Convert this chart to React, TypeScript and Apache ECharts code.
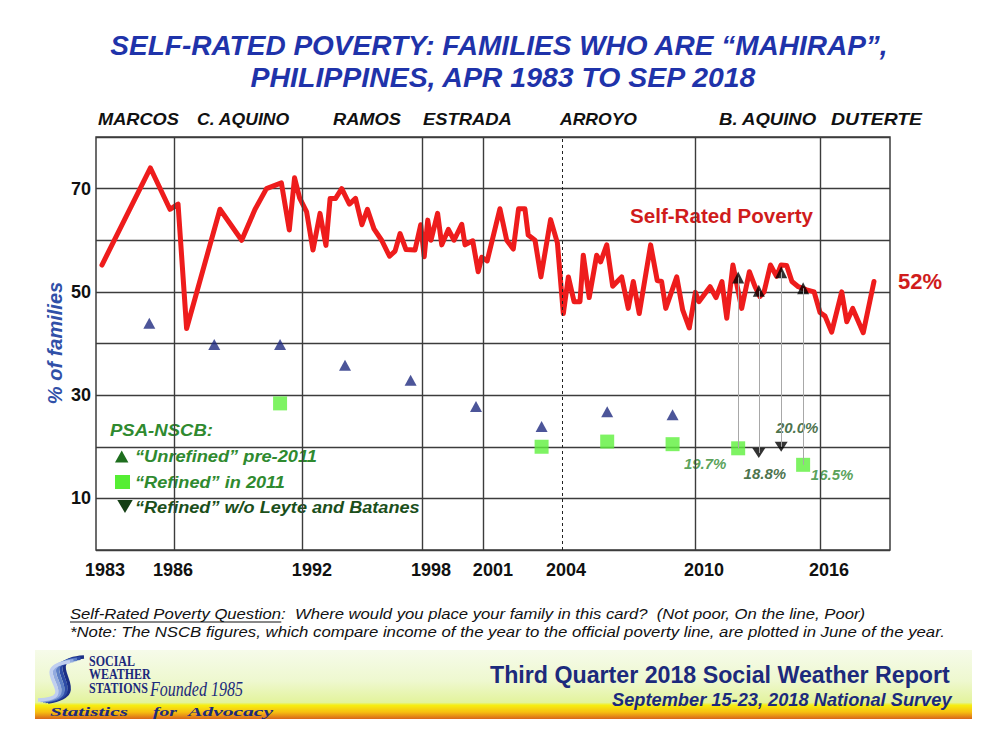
import React, { useEffect, useRef } from 'react';
import * as echarts from 'echarts';

// ---------- DATA ----------
// Self-Rated Poverty survey points (x = position on the time axis, in years)
const srpDates = [
  1982.86, 1985.07, 1985.96, 1986.33, 1986.72, 1988.24, 1989.23, 1989.84, 1990.36, 1991.04,
  1991.4, 1991.64, 1991.87, 1992.19, 1992.48, 1992.8, 1993.07, 1993.26, 1993.51, 1993.79,
  1994.14, 1994.42, 1994.71, 1994.96, 1995.26, 1995.61, 1995.97, 1996.22, 1996.45, 1996.72,
  1997.13, 1997.39, 1997.55, 1997.71, 1997.86, 1998.16, 1998.35, 1998.65, 1998.91, 1999.26,
  1999.41, 1999.76, 2000.01, 2000.17, 2000.42, 2001.0, 2001.31, 2001.61, 2001.85, 2002.14,
  2002.29, 2002.6, 2002.87, 2003.31, 2003.62, 2003.89, 2004.12, 2004.38, 2004.65, 2004.8,
  2005.07, 2005.41, 2005.59, 2005.87, 2006.14, 2006.55, 2006.85, 2007.08, 2007.35, 2007.87,
  2008.17, 2008.37, 2008.56, 2009.06, 2009.33, 2009.63, 2009.91, 2010.07, 2010.35, 2010.58,
  2010.85, 2011.12, 2011.34, 2011.62, 2012.02, 2012.37, 2012.63, 2012.85, 2013.04, 2013.33,
  2013.61, 2013.81, 2014.07, 2014.31, 2014.6, 2014.98, 2015.32, 2015.59, 2015.82, 2016.12,
  2016.58, 2016.81, 2017.08, 2017.56, 2018.05,
];
const srpValues = [
  55.2, 74.0, 66.0, 67.0, 42.9, 66.0, 60.0, 66.0, 70.0, 71.1,
  62.0, 72.1, 68.2, 65.5, 58.1, 65.2, 59.0, 68.1, 68.1, 70.0,
  67.0, 68.1, 63.0, 66.0, 62.2, 60.0, 56.9, 57.9, 61.3, 58.2,
  58.1, 63.0, 56.8, 63.9, 60.0, 65.2, 59.1, 62.1, 60.0, 63.1,
  59.1, 59.9, 53.9, 56.7, 56.0, 66.1, 60.0, 58.3, 66.1, 66.1,
  61.0, 60.0, 52.9, 64.0, 59.5, 45.8, 52.9, 48.1, 48.1, 57.1,
  48.9, 57.1, 55.8, 59.1, 51.1, 52.9, 46.8, 52.0, 45.8, 59.1,
  52.2, 52.0, 46.8, 52.9, 46.5, 43.0, 49.9, 48.1, 49.7, 51.0,
  48.9, 52.0, 44.9, 55.2, 46.8, 53.9, 51.0, 49.1, 50.0, 55.2,
  53.0, 55.2, 55.1, 52.0, 51.0, 50.4, 50.0, 46.0, 45.3, 42.2,
  50.0, 44.2, 46.8, 42.1, 52.0,
];

// PSA-NSCB "Unrefined" pre-2011
const unrefinedDates = [1985.02, 1987.98, 1990.98, 1993.94, 1996.93, 1999.91, 2002.9, 2005.89, 2008.87];
const unrefinedValues = [43.9, 39.8, 39.8, 35.8, 32.9, 27.8, 23.9, 26.8, 26.2];

// PSA-NSCB "Refined" in 2011
const refinedDates = [1990.98, 2002.9, 2005.89, 2008.87, 2011.86, 2014.82];
const refinedValues = [28.4, 20.0, 21.0, 20.5, 19.7, 16.5];

// PSA-NSCB "Refined" without Leyte and Batanes
const woLeyteDates = [2012.8, 2013.82];
const woLeyteValues = [18.8, 20.0];

// SRP at the NSCB comparison dates (black triangles on the red line)
const srpMarkDates = [2011.86, 2012.8, 2013.82, 2014.82];
const srpMarkValues = [52.8, 50.2, 53.8, 50.7];
const connectorEndValues = [19.7, 18.8, 20.0, 16.5];

// Presidential term boundaries and Arroyo's second term
const termBoundaries = [1986.16, 1992.01, 1997.46, 2000.24, 2009.92, 2015.6];
const secondTermStart = 2003.84;
const presidents = ['MARCOS', 'C. AQUINO', 'RAMOS', 'ESTRADA', 'ARROYO', 'B. AQUINO', 'DUTERTE'];

// x tick labels
const yearLabels = [1983, 1986, 1992, 1998, 2001, 2004, 2010, 2016];
const yearLabelPos = [1983.0, 1986.1, 1992.43, 1997.86, 2000.68, 2004.01, 2010.3, 2016.0];
const yTickLabels = [10, 30, 50, 70];

// ---------- HELPERS ----------
let measureCtx: CanvasRenderingContext2D | null = null;
function measureW(text: string, font: string): number {
  if (!measureCtx) measureCtx = document.createElement('canvas').getContext('2d');
  if (!measureCtx) return 0;
  measureCtx.font = font;
  return measureCtx.measureText(text).width;
}
function fitScale(text: string, font: string, target: number, lo = 0.8, hi = 1.2): number {
  const w = measureW(text, font);
  if (!w) return 1;
  return Math.max(lo, Math.min(hi, target / w));
}

const SANS = '"Liberation Sans", Arial, sans-serif';
const FAM_S = 'Liberation Sans';
const FAM_SERIF = 'Liberation Serif';

function fitText(
  text: string, x: number, y: number, size: number, weight: string, style: string,
  family: string, target: number, color: string, align: string = 'left', hi = 1.2
) {
  const font = `${style} ${weight} ${size}px "${family}"`;
  const sx = fitScale(text, font, target, 0.8, hi);
  return {
    type: 'text', x, y, scaleX: sx, silent: true,
    style: {
      text, fill: color, fontSize: size, fontWeight: weight, fontStyle: style,
      fontFamily: family, align, verticalAlign: 'middle',
    },
  };
}

export default function App() {
  const ref = useRef<HTMLDivElement>(null);

  useEffect(() => {
    if (!ref.current) return;
    const chart = echarts.init(ref.current, null, { renderer: 'svg' });

    const titleColor = '#1f33aa';
    const navy = '#1c2a7c';
    const green = '#2f8a2f';
    const darkGreen = '#1b4f1b';
    const red = '#ee1c1c';
    const redText = '#d01c1c';

    const srpData = srpDates.map((d, i) => [d, srpValues[i]]);
    const unrefinedData = unrefinedDates.map((d, i) => [d, unrefinedValues[i]]);

    const refinedLabelOffsets: Record<number, [number, number]> = { 4: [-33, 15], 5: [29, 10] };
    const refinedData = refinedDates.map((d, i) => {
      const off = refinedLabelOffsets[i];
      return off
        ? { value: [d, refinedValues[i]], label: { show: true, position: 'inside', offset: off, color: green } }
        : { value: [d, refinedValues[i]] };
    });
    const woLeyteLabelOffsets: [number, number][] = [[6, 21], [16, -19]];
    const woLeyteData = woLeyteDates.map((d, i) => ({
      value: [d, woLeyteValues[i]],
      label: { show: true, position: 'inside', offset: woLeyteLabelOffsets[i], color: darkGreen },
    }));
    const srpMarkData = srpMarkDates.map((d, i) => [d, srpMarkValues[i]]);

    const gridLineStyle = { color: '#3c3c3c', width: 1.4, type: 'solid' };
    const markLineData: any[] = termBoundaries.map((v) => ({ xAxis: v }));
    markLineData.push({ xAxis: secondTermStart, lineStyle: { color: '#222', width: 1, type: [3, 3] } });
    const connectorData = srpMarkDates.map((d, i) => [
      { coord: [d, srpMarkValues[i]] },
      { coord: [d, connectorEndValues[i]] },
    ]);

    const pctLabel = {
      formatter: (p: any) => Number(p.value[1]).toFixed(1) + '%',
      fontSize: 15, fontWeight: 'bold', fontStyle: 'italic', fontFamily: SANS,
      align: 'center', verticalAlign: 'middle',
    };

    // footer line 1 (underlined prefix)
    const fFont = `italic normal 14px "${FAM_S}"`;
    const q1Prefix = 'Self-Rated Poverty Question';
    const q1 = q1Prefix + ':  Where would you place your family in this card?  (Not poor, On the line, Poor)';
    const q1Scale = fitScale(q1, fFont, 796);
    const q1PrefixW = measureW(q1Prefix, fFont) * q1Scale;
    const q2 = '*Note: The NSCB figures, which compare income of the year to the official poverty line, are plotted in June of the year.';

    const presLeft = [98, 197, 333, 423, 560, 719, 831];
    const presWidth = [81, 93, 68, 89, 77, 98, 91];

    const logoBlues = ['#1b2f86', '#2d4ba6', '#5d7fc6', '#93abe0', '#c0cff0'];

    const graphic: any[] = [
      // Title
      fitText('SELF-RATED POVERTY: FAMILIES WHO ARE \u201CMAHIRAP\u201D,', 499, 45, 28, 'bold', 'italic', FAM_S, 778, titleColor, 'center'),
      fitText('PHILIPPINES, APR 1983 TO SEP 2018', 503, 77, 28, 'bold', 'italic', FAM_S, 507, titleColor, 'center'),
      // Presidents
      ...presidents.map((p, i) => fitText(p, presLeft[i], 119, 17, 'bold', 'italic', FAM_S, presWidth[i], '#111')),
      // y axis name
      {
        type: 'text', x: 55, y: 343, rotation: Math.PI / 2, silent: true,
        style: {
          text: '% of families', fill: '#3050a8', fontSize: 20, fontWeight: 'bold', fontStyle: 'italic',
          fontFamily: FAM_S, align: 'center', verticalAlign: 'middle',
        },
      },
      // Series annotation
      fitText('Self-Rated Poverty', 721.5, 216, 20, 'bold', 'normal', FAM_S, 183, redText, 'center'),
      // Legend box contents
      fitText('PSA-NSCB:', 110, 430, 17, 'bold', 'italic', FAM_S, 103, green),
      { type: 'polygon', silent: true, shape: { points: [[121.7, 450.5], [128.4, 462.5], [115, 462.5]] }, style: { fill: '#1e6e1e' } },
      fitText('\u201CUnrefined\u201D pre-2011', 135, 456, 17, 'bold', 'italic', FAM_S, 182, green),
      { type: 'rect', silent: true, shape: { x: 115, y: 475, width: 15, height: 14 }, style: { fill: '#55ee33' } },
      fitText('\u201CRefined\u201D in 2011', 135, 482, 17, 'bold', 'italic', FAM_S, 150, green),
      { type: 'polygon', silent: true, shape: { points: [[117.3, 500], [132.7, 500], [125, 513]] }, style: { fill: '#143f14' } },
      fitText('\u201CRefined\u201D w/o Leyte and Batanes', 135, 507, 17, 'bold', 'italic', FAM_S, 285, darkGreen),
      // Footer notes
      {
        type: 'text', x: 70, y: 614, scaleX: q1Scale, silent: true,
        style: { text: q1, fill: '#111', fontSize: 14, fontStyle: 'italic', fontFamily: FAM_S, align: 'left', verticalAlign: 'middle' },
      },
      { type: 'line', silent: true, shape: { x1: 70, y1: 622, x2: 70 + q1PrefixW, y2: 622 }, style: { stroke: '#111', lineWidth: 1 } },
      fitText(q2, 70, 632, 14, 'normal', 'italic', FAM_S, 875, '#111'),
      // Banner
      {
        type: 'rect', silent: true, z: -1,
        shape: { x: 35, y: 650, width: 937, height: 69 },
        style: {
          fill: new echarts.graphic.LinearGradient(0, 0, 0, 1, [
            { offset: 0, color: '#f6fbea' },
            { offset: 0.45, color: '#eef8cf' },
            { offset: 0.76, color: '#e3f39c' },
            { offset: 0.8, color: '#f6ee10' },
            { offset: 0.9, color: '#f7c010' },
            { offset: 1, color: '#d8661a' },
          ]),
        },
      },
      // Logo S (striped swoosh)
      ...logoBlues.map((c, i) => ({
        type: 'bezierCurve', silent: true,
        shape: { x1: 84 - i * 3.5, y1: 657 + i * 1.2, cpx1: 34 - i * 3, cpy1: 660 + i * 2, cpx2: 100 - i * 3.5, cpy2: 694 + i * 1, x2: 48 - i * 2.5, y2: 702 - i * 0.5 },
        style: { stroke: c, lineWidth: 3.4, fill: null },
      })),
      fitText('SOCIAL', 89, 661, 15, 'bold', 'normal', FAM_SERIF, 41, navy),
      fitText('WEATHER', 89, 674, 15, 'bold', 'normal', FAM_SERIF, 54, navy),
      fitText('STATIONS', 89, 688, 15, 'bold', 'normal', FAM_SERIF, 57, navy),
      fitText('Founded 1985', 150, 689, 20, 'normal', 'italic', FAM_SERIF, 93, navy),
      fitText('Statistics', 50, 712, 13, 'bold', 'italic', FAM_SERIF, 78, navy, 'left', 1.7),
      fitText('for', 153, 712, 13, 'bold', 'italic', FAM_SERIF, 24, navy, 'left', 1.7),
      fitText('Advocacy', 188, 712, 13, 'bold', 'italic', FAM_SERIF, 85, navy, 'left', 1.7),
      fitText('Third Quarter 2018 Social Weather Report', 490, 675, 23, 'bold', 'normal', FAM_S, 460, navy),
      fitText('September 15-23, 2018 National Survey', 612, 700, 18, 'bold', 'italic', FAM_S, 340, navy),
    ];

    const option: any = {
      animation: false,
      backgroundColor: '#ffffff',
      textStyle: { fontFamily: SANS },
      grid: {
        left: 96, top: 137, width: 794, height: 413,
        show: true, borderColor: '#3c3c3c', borderWidth: 1.5, backgroundColor: 'transparent',
      },
      xAxis: {
        type: 'value', min: 1982.59, max: 2018.78,
        axisLine: { show: false }, axisTick: { show: false }, splitLine: { show: false },
        axisLabel: {
          customValues: yearLabelPos,
          formatter: (v: number) => {
            const i = yearLabelPos.findIndex((p) => Math.abs(p - v) < 0.02);
            return i >= 0 ? String(yearLabels[i]) : '';
          },
          margin: 11, color: '#111', fontSize: 18, fontWeight: 'bold', fontFamily: SANS,
          showMinLabel: true, showMaxLabel: true,
        },
      },
      yAxis: {
        type: 'value', min: 0, max: 80, interval: 10,
        axisLine: { show: false }, axisTick: { show: false },
        splitLine: { show: true, lineStyle: gridLineStyle },
        axisLabel: {
          formatter: (v: number) => (yTickLabels.indexOf(v) >= 0 ? String(v) : ''),
          margin: 5, color: '#111', fontSize: 18, fontWeight: 'bold', fontFamily: SANS,
        },
      },
      series: [
        {
          name: 'gridlines', type: 'line', z: 1, silent: true,
          data: [[1983, 0]], symbol: 'none', lineStyle: { width: 0, opacity: 0 },
          markLine: {
            silent: true, symbol: ['none', 'none'], label: { show: false },
            lineStyle: gridLineStyle, animation: false,
            data: markLineData,
          },
        },
        {
          name: 'connectors', type: 'line', z: 1, silent: true,
          data: [[1983, 0]], symbol: 'none', lineStyle: { width: 0, opacity: 0 },
          markLine: {
            silent: true, symbol: ['none', 'none'], label: { show: false },
            lineStyle: { color: '#a8a8a8', width: 1, type: 'solid' }, animation: false,
            data: connectorData,
          },
        },
        {
          name: 'Self-Rated Poverty', type: 'line', z: 3, data: srpData, symbol: 'none',
          lineStyle: { color: red, width: 5, join: 'round', cap: 'round' },
          itemStyle: { color: red },
          endLabel: {
            show: true, distance: 24,
            formatter: (p: any) => Math.round(p.value[1]) + '%',
            color: redText, fontSize: 22, fontWeight: 'bold', fontFamily: SANS,
          },
        },
        {
          name: 'SRP at NSCB dates', type: 'scatter', z: 4, data: srpMarkData,
          symbol: 'triangle', symbolSize: [12, 12], itemStyle: { color: '#000' },
        },
        {
          name: '"Unrefined" pre-2011', type: 'scatter', z: 4, data: unrefinedData,
          symbol: 'triangle', symbolSize: [12, 11], itemStyle: { color: '#1f2a80' },
        },
        {
          name: '"Refined" in 2011', type: 'scatter', z: 4, data: refinedData,
          symbol: 'rect', symbolSize: [14, 14], itemStyle: { color: '#5ef03c' },
          label: { ...pctLabel, show: false },
        },
        {
          name: '"Refined" w/o Leyte and Batanes', type: 'scatter', z: 4, data: woLeyteData,
          symbol: 'triangle', symbolRotate: 180, symbolSize: [13, 10], itemStyle: { color: '#000' },
          label: { ...pctLabel, show: true },
        },
      ],
      graphic,
    };

    chart.setOption(option);
    return () => chart.dispose();
  }, []);

  return (
    <div
      ref={ref}
      style={{ position: 'fixed', left: 0, top: 0, width: 999, height: 749, background: '#fff' }}
    />
  );
}
